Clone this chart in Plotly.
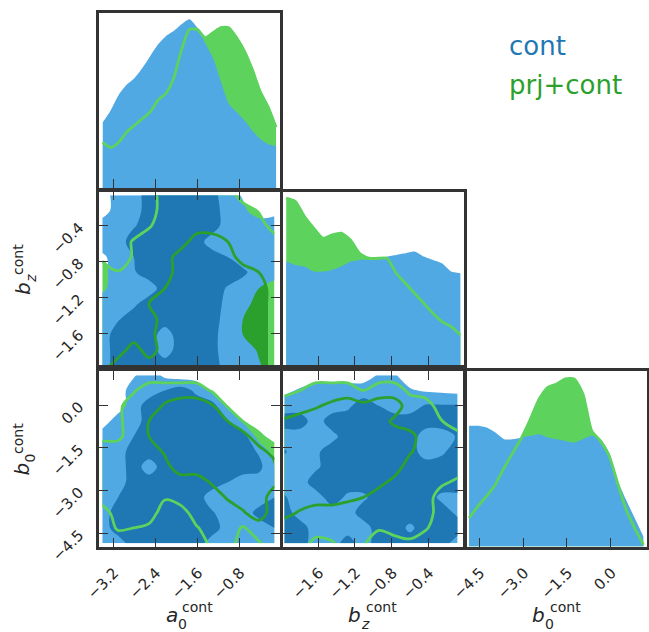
import plotly.graph_objects as go

# ---------------------------------------------------------------- data
# 1D marginals (normalised densities)
a0_pts = [-3.40, -3.25, -3.10, -2.95, -2.80, -2.65, -2.50, -2.35, -2.20, -2.05, -1.90, -1.75,
          -1.60, -1.45, -1.30, -1.15, -1.00, -0.85, -0.70, -0.55, -0.40, -0.25, -0.10]
a0_cont = [0.39, 0.46, 0.55, 0.61, 0.65, 0.71, 0.78, 0.85, 0.90, 0.93, 0.97, 1.00,
           0.95, 0.86, 0.77, 0.63, 0.50, 0.45, 0.40, 0.34, 0.29, 0.26, 0.25]
a0_prj = [0.27, 0.24, 0.27, 0.33, 0.37, 0.41, 0.45, 0.52, 0.56, 0.65, 0.82, 0.94,
          0.94, 0.89, 0.92, 0.95, 0.95, 0.89, 0.81, 0.70, 0.57, 0.48, 0.36]

bz_pts = [-1.95, -1.85, -1.75, -1.65, -1.55, -1.45, -1.35, -1.25, -1.15, -1.05,
          -0.95, -0.85, -0.75, -0.65, -0.55, -0.45, -0.35, -0.25, -0.15, -0.05]
bz_cont = [0.62, 0.60, 0.59, 0.56, 0.56, 0.57, 0.59, 0.62, 0.63, 0.63,
           0.63, 0.65, 0.66, 0.67, 0.68, 0.65, 0.63, 0.61, 0.56, 0.55]
bz_prj = [1.00, 0.98, 0.89, 0.82, 0.76, 0.78, 0.79, 0.75, 0.67, 0.64,
          0.64, 0.64, 0.55, 0.49, 0.43, 0.37, 0.31, 0.26, 0.23, 0.18]

b0_pts = [-4.85, -4.55, -4.25, -3.95, -3.65, -3.35, -3.05, -2.75, -2.45, -2.15, -1.85,
          -1.55, -1.25, -0.95, -0.65, -0.35, -0.05, 0.25, 0.55, 0.85, 1.12]
b0_cont = [0.72, 0.72, 0.71, 0.68, 0.64, 0.64, 0.65, 0.66, 0.67, 0.65, 0.64,
           0.63, 0.62, 0.64, 0.66, 0.64, 0.56, 0.39, 0.27, 0.16, 0.06]
b0_prj = [0.17, 0.24, 0.30, 0.37, 0.47, 0.56, 0.65, 0.76, 0.88, 0.95, 0.97,
          1.00, 1.00, 0.91, 0.69, 0.63, 0.54, 0.37, 0.21, 0.10, 0.01]

# 2D confidence grids: 0 = outside, 1 = inside outer level, 2 = inside inner level
a0_grid = [-3.41, -3.11, -2.81, -2.52, -2.22, -1.92, -1.62, -1.32, -1.02, -0.73, -0.43, -0.13]
bz_grid_rows = [-0.06, -0.23, -0.40, -0.58, -0.75, -0.92, -1.10, -1.27, -1.44, -1.62, -1.79, -1.96]
bz_grid_cols = [-1.97, -1.80, -1.63, -1.45, -1.28, -1.11, -0.94, -0.77, -0.60, -0.43, -0.26, -0.08]
b0_grid_rows = [1.04, 0.51, -0.03, -0.57, -1.10, -1.64, -2.17, -2.71, -3.24, -3.78, -4.31, -4.85]

# a0 (columns) vs bz (rows, top to bottom)
a0_bz_cont = [
    [0, 1, 1, 2, 2, 2, 2, 1.8, 1, 0.4, 0, 0],
    [0, 1, 1, 2, 2, 2, 2, 2, 1, 0.7, 0, 0.2],
    [1, 1, 1.4, 2, 2, 2, 2, 2, 1, 1, 1, 1],
    [1, 1, 2, 2, 2, 2, 2, 1, 1, 1, 1, 1],
    [0.3, 1, 1.5, 2, 2, 2, 2, 2, 1.5, 1, 1, 1],
    [0.2, 1, 1.4, 2, 2, 2, 2, 2, 2, 1.7, 1, 1],
    [0.3, 1, 1, 1, 2, 2, 2, 2, 1.4, 1, 0.5, 0],
    [1, 1, 1.3, 2, 2, 2, 2, 2, 1.2, 1, 0, 0],
    [1, 1.4, 2, 2, 2, 2, 2, 2, 1, 0.5, 0, 0],
    [1, 2, 2, 2, 1, 2, 2, 1.8, 1, 0.5, 0, 0],
    [1, 2, 2, 2, 1, 2, 2, 1.8, 1, 1, 0.4, 0],
    [1, 2, 2, 2, 2, 2, 2, 2, 1, 1, 0.6, 0],
]
a0_bz_prj = [
    [0, 0, 0, 0, 1, 1, 1, 1, 1, 0, 0, 0],
    [0, 0, 0, 0, 1, 1, 1, 1, 1, 1, 0.4, 0],
    [0, 0, 0, 0.4, 1, 1, 1, 1, 1, 1, 1, 0],
    [0, 0, 0.6, 1, 1, 1, 2, 2, 1.5, 1, 1, 1],
    [0.3, 0, 0.6, 1, 1, 2, 2, 2, 2, 1, 1, 1],
    [1, 0.55, 1, 1, 1, 2, 2, 2, 2, 2, 1.5, 1],
    [1, 1, 1, 1, 1.5, 2, 2, 2, 2, 2, 2, 1],
    [1, 1, 1, 1.5, 2, 2, 2, 2, 2, 2, 2, 1],
    [1, 1, 1, 1, 2, 2, 2, 2, 2, 2, 2, 1],
    [1, 1, 1, 1.2, 2, 2, 2, 2, 2, 2, 2, 1],
    [1, 1, 2, 1, 2, 2, 2, 2, 2, 2, 2, 1],
    [1, 2, 2, 2, 2, 2, 2, 2, 2, 2, 2, 1],
]

# a0 (columns) vs b0 (rows, top to bottom)
a0_b0_cont = [
    [0, 0, 0.4, 1, 0.3, 0, 0, 0, 0, 0, 0, 0],
    [0, 0, 1, 1, 1.5, 2, 1.3, 0.2, 0, 0, 0, 0],
    [0, 0, 1, 2, 2, 2, 2, 2, 0.3, 0, 0, 0],
    [0, 1, 1, 2, 2, 2, 2, 2, 1.6, 0.3, 0, 0],
    [1, 1, 1.5, 2, 2, 2, 2, 2, 2, 2, 0, 0],
    [1, 1, 2, 2, 2, 2, 2, 2, 2, 2, 1.4, 0],
    [1, 1, 2, 1, 2, 2, 2, 2, 2, 2, 1.8, 0.5],
    [1, 1, 2, 2, 2, 2, 2, 2, 1.5, 1, 1, 1],
    [1, 1.5, 2, 2, 2, 2, 2, 1, 1, 1, 1, 1.5],
    [1, 2, 2, 2, 2, 2, 2, 1.6, 1, 1, 1.8, 2],
    [1, 2, 2, 2, 2, 2, 2, 2, 1, 1, 1, 1.5],
    [1, 1, 2, 2, 2, 2, 2, 1, 1, 1, 1, 1],
]
a0_b0_prj = [
    [0, 0, 0, 0, 0, 0, 0, 0, 0, 0, 0, 0],
    [0, 0, 0.4, 1, 1, 1, 1, 0.4, 0, 0, 0, 0],
    [0, 0.3, 1, 1, 1.6, 2, 2, 1.6, 0.4, 0, 0, 0],
    [0, 0.3, 1, 1.5, 2, 2, 2, 2, 1.5, 0.5, 0, 0],
    [0.3, 0.3, 1, 1.5, 2, 2, 2, 2, 2, 2, 0.7, 0],
    [1, 1, 1, 1, 1.6, 2, 2, 2, 2, 2, 2, 1],
    [1, 1, 1, 1, 1.2, 2, 2, 2, 2, 2, 2, 2],
    [1, 1, 1, 1, 1, 1, 1, 1.6, 2, 2, 2, 1.7],
    [1, 1, 1, 1, 0.6, 1, 1, 1, 1.6, 2, 2, 1],
    [0, 1, 1, 1, 0, 0, 1, 1, 1, 1.4, 2, 1],
    [0, 0.6, 0.5, 0.3, 0, 0, 0.4, 1, 1, 0.4, 1, 1],
    [0, 0, 0, 0, 0, 0, 0, 0.7, 1, 0, 0.4, 1],
]

# bz (columns) vs b0 (rows, top to bottom)
bz_b0_cont = [
    [0, 0, 0, 0, 0, 0, 0.6, 0.6, 0, 0, 0, 0],
    [0.3, 0.6, 1, 1, 1, 1, 1, 1, 0.6, 0.4, 0.3, 0.2],
    [1, 1, 1, 1, 1.3, 2, 1.5, 1, 1, 1.6, 1.6, 1.6],
    [2, 2, 1, 2, 2, 2, 2, 2, 2, 2, 2, 2],
    [1, 1, 1, 1.2, 2, 2, 2, 2, 2, 1, 1, 1.6],
    [1.6, 1, 1.3, 2, 2, 2, 2, 2, 2, 1, 1.3, 2],
    [1, 1, 1.3, 2, 2, 2, 2, 2, 2, 2, 2, 2],
    [1, 1, 2, 2, 2, 2, 2, 2, 2, 2, 2, 2],
    [1.6, 1, 1, 2, 1.3, 1.3, 2, 2, 2, 2, 1.3, 1.3],
    [2, 1, 1, 1, 1, 2, 2, 2, 2, 2, 2, 1.3],
    [2, 2, 1, 1, 1, 1, 2, 2, 1.3, 2, 2, 2],
    [2, 2, 1, 1, 2, 1, 2, 2, 2, 2, 2, 1],
]
bz_b0_prj = [
    [0, 0, 0, 0, 0, 0, 0, 0, 0, 0, 0, 0],
    [0.2, 0.5, 1, 1, 1, 0.5, 1, 1, 0.3, 0, 0, 0],
    [1, 1, 1.4, 1.7, 2, 1.8, 2, 2, 1, 1, 0, 0],
    [1.6, 2, 2, 2, 2, 2, 2, 1.3, 1, 1, 0.55, 0],
    [2, 2, 2, 2, 2, 2, 2, 2, 1.8, 1, 1, 0.8],
    [2, 2, 2, 2, 2, 2, 2, 2, 1.6, 1, 1, 1],
    [2, 2, 2, 2, 2, 2, 2, 2, 1, 1, 1, 1],
    [2, 2, 2, 2, 2, 2, 1.8, 1.2, 1, 1, 0.7, 0.3],
    [2, 2, 2, 2, 1.7, 1.5, 1, 1, 1, 1, 0, 0],
    [1.8, 1.4, 1, 1, 1, 1, 1, 1, 1, 1, 0, 0],
    [1, 1, 1, 1, 1, 1, 0.6, 1, 1, 0.6, 0, 0],
    [1, 1, 0.2, 0.4, 1, 0.6, 0, 0, 0.3, 0, 0, 0],
]

a0_ticks = [-3.2, -2.4, -1.6, -0.8]
bz_ticks = [-1.6, -1.2, -0.8, -0.4]
b0_ticks = [-4.5, -3.0, -1.5, 0.0]

# ---------------------------------------------------------------- style
W, H = 649, 632
BLUE = "#1f77b4"
BLUE_LIGHT = "#51a9e3"
GREEN = "#2ca02c"
GREEN_LIGHT = "#5dd35d"
FRAME = "#333333"
TEXT = "#262626"
FONT = "DejaVu Sans"


def px_x(p):
    return p / W


def px_y(p):
    return 1 - p / H


def labels(vals):
    return [f"{v:.1f}".replace("-", "\u2212") for v in vals]


def flip(rows):
    return [list(r) for r in reversed(rows)]


fig = go.Figure()


def fill2d(xs, ys, z, light, dark, xa, ya):
    fig.add_trace(go.Contour(
        x=xs, y=list(reversed(ys)), z=flip(z), xaxis=xa, yaxis=ya,
        autocontour=False,
        contours=dict(start=0.5, end=1.5, size=1, coloring="fill", showlines=False),
        colorscale=[[0, "rgba(255,255,255,0)"], [0.5, light], [1, dark]],
        showscale=False, line=dict(width=0, smoothing=1.0), hoverinfo="skip"))


def line2d(xs, ys, z, level, color, xa, ya):
    fig.add_trace(go.Contour(
        x=xs, y=list(reversed(ys)), z=flip(z), xaxis=xa, yaxis=ya,
        autocontour=False,
        contours=dict(start=level, end=level, size=1, coloring="none"),
        line=dict(color=color, width=2.8, smoothing=1.0),
        showscale=False, hoverinfo="skip"))


def panel2d(xs, ys, z_cont, z_prj, xa, ya):
    fill2d(xs, ys, z_prj, GREEN_LIGHT, GREEN, xa, ya)
    fill2d(xs, ys, z_cont, BLUE_LIGHT, BLUE, xa, ya)
    line2d(xs, ys, z_prj, 0.5, GREEN_LIGHT, xa, ya)
    line2d(xs, ys, z_prj, 1.5, GREEN, xa, ya)


def panel1d(xs, cont, prj, xa, ya):
    fig.add_trace(go.Scatter(x=xs, y=prj, xaxis=xa, yaxis=ya, mode="lines",
                             fill="tozeroy", fillcolor=GREEN_LIGHT,
                             line=dict(width=0, color=GREEN_LIGHT, shape="spline", smoothing=0.6),
                             hoverinfo="skip"))
    fig.add_trace(go.Scatter(x=xs, y=cont, xaxis=xa, yaxis=ya, mode="lines",
                             fill="tozeroy", fillcolor=BLUE_LIGHT,
                             line=dict(width=0, color=BLUE_LIGHT, shape="spline", smoothing=0.6),
                             hoverinfo="skip"))
    fig.add_trace(go.Scatter(x=xs, y=prj, xaxis=xa, yaxis=ya, mode="lines",
                             line=dict(width=2.8, color=GREEN_LIGHT, shape="spline", smoothing=0.6),
                             hoverinfo="skip"))


panel1d(a0_pts, a0_cont, a0_prj, "x", "y")
panel2d(a0_grid, bz_grid_rows, a0_bz_cont, a0_bz_prj, "x2", "y2")
panel2d(a0_grid, b0_grid_rows, a0_b0_cont, a0_b0_prj, "x3", "y3")
panel1d(bz_pts, bz_cont, bz_prj, "x4", "y4")
panel2d(bz_grid_cols, b0_grid_rows, bz_b0_cont, bz_b0_prj, "x5", "y5")
panel1d(b0_pts, b0_cont, b0_prj, "x6", "y6")

# panel boxes in pixels
cols = [(99, 280), (283, 463.5), (466, 646.5)]
rows = [(12.5, 188), (191.5, 365), (371, 546.5)]


def xdom(c):
    return [px_x(cols[c][0]), px_x(cols[c][1])]


def ydom(r):
    return [px_y(rows[r][1]), px_y(rows[r][0])]


base = dict(showline=True, linecolor=FRAME, linewidth=2.5, showgrid=False, zeroline=False,
            ticks="inside", ticklen=9, tickwidth=1.4, tickcolor=FRAME, automargin=False,
            tickfont=dict(family=FONT, size=15, color=TEXT), tickangle=-45)

a0_range = [-3.472, -0.025]
bz_xrange = [-1.985, -0.016]
bz_yrange = [-1.954, -0.019]
b0_xrange = [-4.955, 1.226]
b0_yrange = [-4.963, 1.193]


def xa(c, rng, ticks, anchor, show, mirror):
    return dict(base, domain=xdom(c), range=rng, tickvals=ticks, ticktext=labels(ticks),
                anchor=anchor, showticklabels=show, mirror=mirror,
                ticklabelstandoff=9, ticklabelshift=1)


def ya(r, rng, ticks, anchor, show, mirror):
    d = dict(base, domain=ydom(r), range=rng, anchor=anchor, showticklabels=show, mirror=mirror)
    if ticks is None:
        d.update(ticks="", tickvals=[], showticklabels=False)
    else:
        d.update(tickvals=ticks, ticktext=labels(ticks), ticklabelstandoff=14)
    return d


fig.update_layout(
    width=W, height=H, margin=dict(l=0, r=0, t=0, b=0, autoexpand=False),
    paper_bgcolor="white", plot_bgcolor="white", showlegend=False,
    xaxis=xa(0, a0_range, a0_ticks, "y", False, True),
    yaxis=ya(0, [0, 1.04], None, "x", False, True),
    xaxis2=xa(0, a0_range, a0_ticks, "y2", False, "ticks"),
    yaxis2=ya(1, bz_yrange, bz_ticks, "x2", True, "ticks"),
    xaxis3=xa(0, a0_range, a0_ticks, "y3", True, "ticks"),
    yaxis3=ya(2, b0_yrange, b0_ticks, "x3", True, "ticks"),
    xaxis4=xa(1, bz_xrange, bz_ticks, "y4", False, True),
    yaxis4=ya(1, [0, 1.04], None, "x4", False, True),
    xaxis5=xa(1, bz_xrange, bz_ticks, "y5", True, "ticks"),
    yaxis5=ya(2, b0_yrange, b0_ticks, "x5", False, "ticks"),
    xaxis6=xa(2, b0_xrange, b0_ticks, "y6", True, True),
    yaxis6=ya(2, [0, 1.047], None, "x6", False, True),
)

ann = []


def text(s, x, y, size, color=TEXT, angle=0, xanchor="center"):
    ann.append(dict(text=s, x=px_x(x), y=px_y(y), xref="paper", yref="paper",
                    showarrow=False, xanchor=xanchor, yanchor="middle", textangle=angle,
                    borderpad=0, font=dict(family=FONT, size=size, color=color)))


# legend
text("cont", 508, 46, 26, BLUE, xanchor="left")
text("prj+cont", 508, 85, 26, GREEN, xanchor="left")

# bottom axis titles: letter, subscript, superscript
text("<i>a</i>", 171.5, 614.8, 20)
text("0", 182.5, 623.5, 14)
text("cont", 197.5, 607.1, 14)
text("<i>b</i>", 354.8, 614.8, 20)
text("<i>z</i>", 365.2, 623.5, 14)
text("cont", 381.5, 607.1, 14)
text("<i>b</i>", 538.1, 614.8, 20)
text("0", 549.2, 623.5, 14)
text("cont", 565, 607.1, 14)

# left axis titles (rotated)
text("<i>b</i>", 22.4, 288.6, 20, angle=-90)
text("<i>z</i>", 30.2, 278.5, 14, angle=-90)
text("cont", 17.5, 259.5, 14, angle=-90)
text("<i>b</i>", 22.4, 469.0, 20, angle=-90)
text("0", 30.2, 458.2, 14, angle=-90)
text("cont", 17.5, 438.5, 14, angle=-90)

fig.update_layout(annotations=ann)
fig.write_html("out.html")
